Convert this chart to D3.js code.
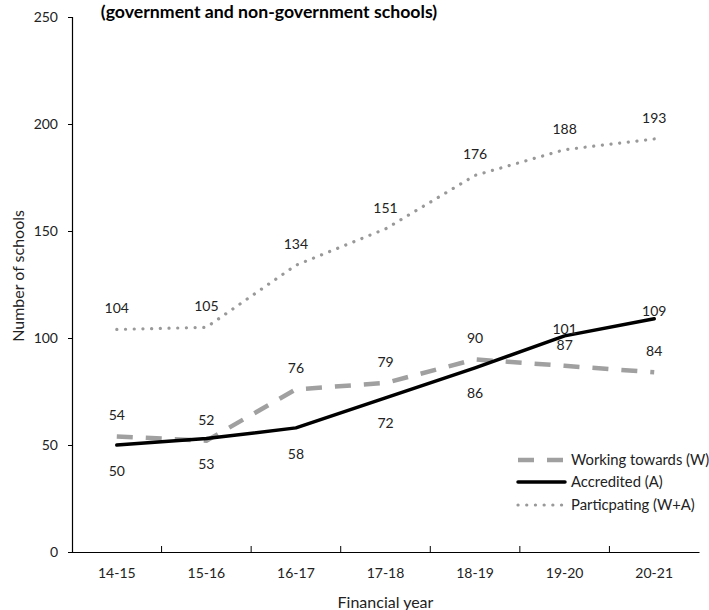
<!DOCTYPE html>
<html>
<head>
<meta charset="utf-8">
<script src="https://cdn.jsdelivr.net/npm/d3@7"></script>
<style>
  html, body { margin: 0; padding: 0; background: #fff; }
  svg { display: block; font-family: Lato, "Open Sans", sans-serif; }
</style>
</head>
<body>
<svg id="chart" width="709" height="610"></svg>
<script>
const categories = ["14-15", "15-16", "16-17", "17-18", "18-19", "19-20", "20-21"];
const workingTowards = [54, 52, 76, 79, 90, 87, 84];
const accredited = [50, 53, 58, 72, 86, 101, 109];
const participating = [104, 105, 134, 151, 176, 188, 193];
const yTicks = [0, 50, 100, 150, 200, 250];
const seriesNames = ["Working towards (W)", "Accredited (A)", "Particpating (W+A)"];
const titleText = "(government and non-government schools)";
const xTitle = "Financial year";
const yTitle = "Number of schools";

const svg = d3.select("#chart");
const mLeft = 72, mRight = 699, mTop = 17, mBottom = 552;

const x = d3.scaleBand().domain(categories).range([mLeft, mRight]).padding(0);
const y = d3.scaleLinear().domain([0, 250]).range([mBottom, mTop]);
const cx = d => x(d) + x.bandwidth() / 2;

// Title
svg.append("text")
  .attr("x", 269).attr("y", 18)
  .attr("text-anchor", "middle")
  .attr("font-size", 17.7).attr("font-weight", "bold")
  .attr("fill", "#000")
  .text(titleText);

// Y axis
const yAxis = svg.append("g")
  .attr("transform", `translate(${mLeft},0)`)
  .call(d3.axisLeft(y).tickValues(yTicks).tickSize(4).tickPadding(10));
yAxis.select(".domain").attr("stroke", "#000").attr("stroke-width", 1.2);
yAxis.selectAll(".tick line").attr("stroke", "#000");
yAxis.selectAll(".tick text").attr("font-size", 14).attr("fill", "#222")
  .attr("font-family", "Lato, 'Open Sans', sans-serif");

// X axis
const xAxis = svg.append("g")
  .attr("transform", `translate(0,${mBottom})`)
  .call(d3.axisBottom(x).tickSize(0).tickPadding(16));
xAxis.select(".domain").attr("stroke", "#000").attr("stroke-width", 1.2);
xAxis.selectAll(".tick text").attr("font-size", 14).attr("fill", "#222")
  .attr("font-family", "Lato, 'Open Sans', sans-serif");
// inner tick marks at category boundaries
const boundaries = categories.slice(1);
svg.append("g").selectAll("line").data(boundaries).join("line")
  .attr("x1", d => x(d)).attr("x2", d => x(d))
  .attr("y1", mBottom).attr("y2", mBottom - 6)
  .attr("stroke", "#000").attr("stroke-width", 1);

// Axis titles
svg.append("text")
  .attr("x", (mLeft + mRight) / 2).attr("y", 602).attr("dy", "0.35em")
  .attr("text-anchor", "middle").attr("font-size", 16).attr("fill", "#222")
  .text(xTitle);
svg.append("text")
  .attr("transform", `translate(18,${y(129)}) rotate(-90)`)
  .attr("dy", "0.35em")
  .attr("text-anchor", "middle").attr("font-size", 16).attr("fill", "#222")
  .text(yTitle);

const line = d3.line().x((d, i) => cx(categories[i])).y(d => y(d));

const styles = [
  { data: workingTowards, stroke: "#a0a0a0", width: 4.5, dash: "16,13", cap: "butt", dy: [-21, -21, -21, -21, -21, -21, -21] },
  { data: accredited, stroke: "#000", width: 3.5, dash: null, cap: "round", dy: [26, 26, 26, 25, 25, -7, -8] },
  { data: participating, stroke: "#999", width: 3.2, dash: "0.1,8.6", cap: "round", dy: [-21, -21, -21, -21, -21, -21, -21] }
];

[2, 0, 1].forEach(k => {
  const s = styles[k];
  svg.append("path")
    .datum(s.data)
    .attr("d", line)
    .attr("fill", "none")
    .attr("stroke", s.stroke)
    .attr("stroke-width", s.width)
    .attr("stroke-linecap", s.cap)
    .attr("stroke-linejoin", "round")
    .attr("stroke-dasharray", s.dash);
});

// data labels
styles.forEach(s => {
  svg.append("g").selectAll("text").data(s.data).join("text")
    .attr("x", (d, i) => cx(categories[i]))
    .attr("y", (d, i) => y(d) + s.dy[i])
    .attr("dy", "0.35em")
    .attr("text-anchor", "middle")
    .attr("font-size", 14).attr("fill", "#222")
    .text(d => d);
});

// Legend
const legY = [460, 482, 505];
const leg = svg.append("g");
styles.forEach((s, i) => {
  leg.append("line")
    .attr("x1", 518).attr("x2", 565)
    .attr("y1", legY[i]).attr("y2", legY[i])
    .attr("stroke", s.stroke).attr("stroke-width", s.width)
    .attr("stroke-linecap", s.cap)
    .attr("stroke-dasharray", s.dash);
  leg.append("text")
    .attr("x", 571).attr("y", legY[i]).attr("dy", "0.35em")
    .attr("font-size", 14.8).attr("fill", "#222")
    .text(seriesNames[i]);
});
</script>
</body>
</html>
